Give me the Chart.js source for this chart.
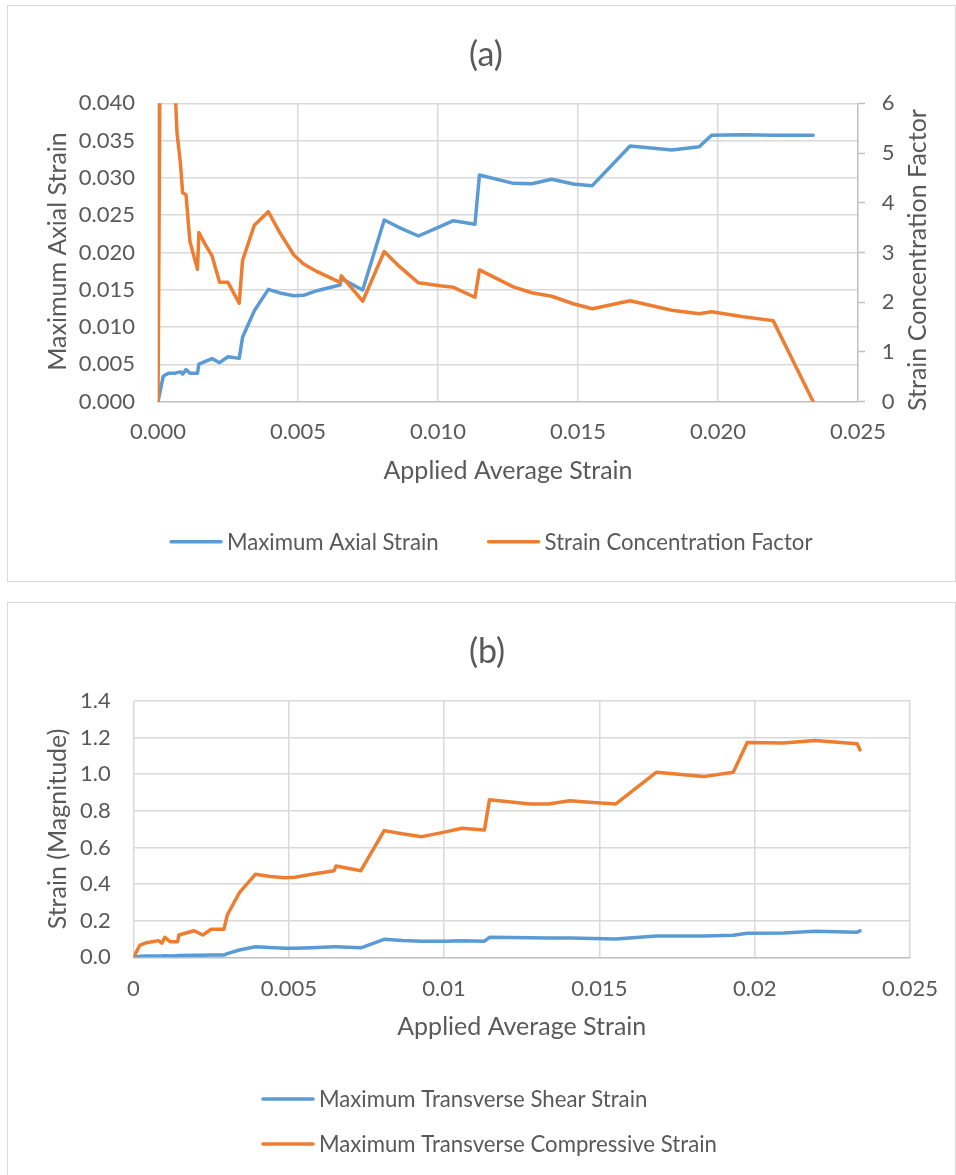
<!DOCTYPE html>
<html>
<head>
<meta charset="utf-8">
<script src="https://cdn.jsdelivr.net/npm/chart.js@4.4.1/dist/chart.umd.min.js"></script>
<style>
  html, body { margin: 0; padding: 0; background: #fff; overflow: hidden; }
  .panel { position: absolute; left: 7px; width: 947px; border: 1px solid #d9d9d9; background: #fff; }
  #panelA { top: 5px; height: 575px; }
  #panelB { top: 602px; height: 598px; }
  canvas { display: block; }
</style>
</head>
<body>
<div class="panel" id="panelA"><canvas id="chartA" width="947" height="575"></canvas></div>
<div class="panel" id="panelB"><canvas id="chartB" width="947" height="598"></canvas></div>

<script>
// ---- Panel (a): axial strain and strain concentration factor ----
const appliedStrainA = [0, 0.00019, 0.00037, 0.00060, 0.00068, 0.00080, 0.00088, 0.00100, 0.00114,
  0.00141, 0.00146, 0.00167, 0.00193, 0.00220, 0.00250, 0.00290, 0.00302, 0.00344, 0.00394,
  0.00435, 0.00485, 0.00520, 0.00567, 0.00650, 0.00655, 0.00731, 0.00808, 0.00860, 0.00930,
  0.01007, 0.01055, 0.01132, 0.01148, 0.01269, 0.01335, 0.01406, 0.01483, 0.01551, 0.01686,
  0.01835, 0.01933, 0.01977, 0.02090, 0.02197, 0.02340];
const maxAxialStrain = [0, 0.00345, 0.0038, 0.0038, 0.0039, 0.0040, 0.0037, 0.0043, 0.0038,
  0.0038, 0.00505, 0.00536, 0.00577, 0.00523, 0.00603, 0.00581, 0.00863, 0.0122, 0.01506,
  0.01458, 0.01421, 0.01426, 0.01488, 0.01564, 0.0165, 0.01497, 0.02436, 0.02338, 0.02221,
  0.02346, 0.02426, 0.02378, 0.03039, 0.02927, 0.02922, 0.02981, 0.02918, 0.02896, 0.03428,
  0.03374, 0.03418, 0.03571, 0.03579, 0.03571, 0.03571];
const strainConcentration = [0, 18, 10, 6.4, 5.4, 4.8, 4.2, 4.16, 3.22,
  2.66, 3.4, 3.18, 2.93, 2.4, 2.4, 1.98, 2.84, 3.55, 3.82,
  3.4, 2.95, 2.77, 2.62, 2.4, 2.53, 2.02, 3.02, 2.73, 2.39,
  2.33, 2.30, 2.10, 2.65, 2.31, 2.19, 2.12, 1.97, 1.87, 2.03,
  1.84, 1.77, 1.81, 1.71, 1.63, 0];

// ---- Panel (b): transverse strains ----
const appliedStrainB = [0, 0.00021, 0.00042, 0.00080, 0.00091, 0.00101, 0.00118, 0.00142, 0.00146,
  0.00195, 0.00223, 0.00250, 0.00291, 0.00302, 0.00341, 0.00393, 0.00440, 0.00488, 0.00520,
  0.00574, 0.00646, 0.00652, 0.00732, 0.00807, 0.00865, 0.00928, 0.01005, 0.01057, 0.01130,
  0.01146, 0.01277, 0.01335, 0.01405, 0.01480, 0.01553, 0.01684, 0.01835, 0.01931, 0.01976,
  0.02092, 0.02194, 0.02330, 0.02339];
const transverseShear = [0, 0.006, 0.007, 0.007, 0.007, 0.008, 0.007, 0.008, 0.010,
  0.011, 0.011, 0.012, 0.012, 0.020, 0.040, 0.058, 0.053, 0.050, 0.049,
  0.052, 0.058, 0.058, 0.052, 0.098, 0.092, 0.088, 0.088, 0.090, 0.088,
  0.109, 0.107, 0.106, 0.105, 0.103, 0.100, 0.116, 0.116, 0.120, 0.131,
  0.133, 0.142, 0.137, 0.145];
const transverseCompressive = [0, 0.067, 0.080, 0.091, 0.077, 0.109, 0.085, 0.085, 0.122,
  0.145, 0.122, 0.153, 0.153, 0.231, 0.353, 0.454, 0.441, 0.435, 0.437,
  0.454, 0.473, 0.499, 0.473, 0.692, 0.675, 0.659, 0.685, 0.705, 0.696,
  0.860, 0.838, 0.837, 0.855, 0.845, 0.838, 1.011, 0.987, 1.011, 1.173,
  1.170, 1.184, 1.166, 1.133];

// ---- Tick values ----
const xTicksStep = 0.005;
const axialTicks = { min: 0, max: 0.04, step: 0.005 };
const scfTicks = { min: 0, max: 6, step: 1 };
const transverseTicks = { min: 0, max: 1.4, step: 0.2 };

const FAMILY = 'Lato, "Open Sans", sans-serif';
const TEXT = '#595959';
const GRID = '#d9d9d9';
const AXIS = '#bfbfbf';
const BLUE = '#5b9bd5';
const ORANGE = '#ed7d31';

Chart.defaults.font.family = FAMILY;
Chart.defaults.font.size = 22;
Chart.defaults.color = TEXT;

const pairs = (xs, ys) => xs.map((x, i) => ({ x, y: ys[i] }));

function lineSet(label, xs, ys, color, extra) {
  return Object.assign({
    label, data: pairs(xs, ys),
    borderColor: color, backgroundColor: color,
    borderWidth: 3.5, pointRadius: 0, pointHoverRadius: 0,
    tension: 0, borderCapStyle: 'round', borderJoinStyle: 'round', fill: false
  }, extra || {});
}

// Titles, axis titles and legend, drawn on top of the chart
const decorations = {
  id: 'decorations',
  afterDraw(chart, args, o) {
    const ctx = chart.ctx;
    const area = chart.chartArea;
    ctx.save();
    ctx.fillStyle = TEXT;
    ctx.textBaseline = 'middle';

    ctx.font = `34px ${FAMILY}`;
    ctx.textAlign = 'center';
    ctx.fillText(o.title, o.titleX, o.titleY);

    ctx.font = `25px ${FAMILY}`;
    ctx.fillText(o.xTitle, (area.left + area.right) / 2, area.bottom + o.xTitleGap);

    o.yTitles.forEach(t => {
      ctx.save();
      ctx.translate(t.x, t.y);
      ctx.rotate(-Math.PI / 2);
      ctx.textAlign = 'center';
      ctx.fillText(t.text, 0, 0);
      ctx.restore();
    });

    ctx.font = `22.2px ${FAMILY}`;
    ctx.textAlign = 'left';
    chart.data.datasets.forEach((ds, i) => {
      const it = o.legend[i];
      ctx.strokeStyle = ds.borderColor;
      ctx.lineWidth = 3.5;
      ctx.lineCap = 'round';
      ctx.beginPath();
      ctx.moveTo(it.x + 2, it.y);
      ctx.lineTo(it.x + 52, it.y);
      ctx.stroke();
      ctx.fillText(ds.label, it.x + 58, it.y + 1);
    });
    ctx.restore();
  }
};

function fixedWidth(w) { return scale => { scale.width = w; }; }
function fixedHeight(h) { return scale => { scale.height = h; scale.paddingLeft = 0; scale.paddingRight = 0; }; }

// Panel (a)
new Chart(document.getElementById('chartA'), {
  type: 'line',
  data: {
    datasets: [
      lineSet('Maximum Axial Strain', appliedStrainA, maxAxialStrain, BLUE, { yAxisID: 'y', order: 2 }),
      lineSet('Strain Concentration Factor', appliedStrainA, strainConcentration, ORANGE, { yAxisID: 'y2', order: 1 })
    ]
  },
  options: {
    responsive: false, animation: false, events: [],
    layout: { padding: { left: 70, right: 37, top: 97.3, bottom: 119.3 } },
    plugins: {
      legend: { display: false }, title: { display: false }, tooltip: { enabled: false },
      decorations: {
        title: '(a)', titleX: 478, titleY: 49,
        xTitle: 'Applied Average Strain', xTitleGap: 69,
        yTitles: [
          { text: 'Maximum Axial Strain', x: 50, y: 245.5 },
          { text: 'Strain Concentration Factor', x: 910, y: 254 }
        ],
        legend: [ { x: 161, y: 535.7 }, { x: 478.6, y: 535.7 } ]
      }
    },
    scales: {
      x: {
        type: 'linear', min: 0, max: 0.025,
        afterFit: fixedHeight(60),
        ticks: { stepSize: xTicksStep, padding: 17.5, maxRotation: 0, callback: v => v.toFixed(3) },
        grid: { color: c => (c.tick && Math.abs(c.tick.value - 0.025) < 1e-9) ? 'rgba(0,0,0,0)' : GRID, lineWidth: 1.5, drawTicks: false },
        border: { display: true, color: AXIS, width: 1.5 }
      },
      y: {
        type: 'linear', position: 'left', min: axialTicks.min, max: axialTicks.max,
        afterFit: fixedWidth(80),
        ticks: { stepSize: axialTicks.step, padding: 23, callback: v => v.toFixed(3) },
        grid: { color: c => (c.tick && c.tick.value === 0) ? 'rgba(0,0,0,0)' : GRID, lineWidth: 1.5, drawTicks: false },
        border: { display: false }
      },
      y2: {
        type: 'linear', position: 'right', min: scfTicks.min, max: scfTicks.max,
        afterFit: fixedWidth(60),
        ticks: { stepSize: scfTicks.step, padding: 16.7, callback: v => String(v) },
        grid: { drawOnChartArea: false, drawTicks: true, tickLength: 7, tickColor: AXIS, tickWidth: 1.5, color: AXIS },
        border: { display: true, color: AXIS, width: 1.5 }
      }
    }
  },
  plugins: [decorations]
});

// Panel (b)
new Chart(document.getElementById('chartB'), {
  type: 'line',
  data: {
    datasets: [
      lineSet('Maximum Transverse Shear Strain', appliedStrainB, transverseShear, BLUE, { order: 2 }),
      lineSet('Maximum Transverse Compressive Strain', appliedStrainB, transverseCompressive, ORANGE, { order: 1 })
    ]
  },
  options: {
    responsive: false, animation: false, events: [],
    layout: { padding: { left: 45.5, right: 45, top: 98, bottom: 183.7 } },
    plugins: {
      legend: { display: false }, title: { display: false }, tooltip: { enabled: false },
      decorations: {
        title: '(b)', titleX: 479, titleY: 49,
        xTitle: 'Applied Average Strain', xTitleGap: 69.7,
        yTitles: [ { text: 'Strain (Magnitude)', x: 50, y: 226 } ],
        legend: [ { x: 253, y: 496 }, { x: 253, y: 541 } ]
      }
    },
    scales: {
      x: {
        type: 'linear', min: 0, max: 0.025,
        afterFit: fixedHeight(60),
        ticks: { stepSize: xTicksStep, padding: 18, maxRotation: 0, callback: v => String(parseFloat(v.toFixed(3))) },
        grid: { color: GRID, lineWidth: 1.5, drawTicks: false },
        border: { display: true, color: AXIS, width: 1.5 }
      },
      y: {
        type: 'linear', min: transverseTicks.min, max: transverseTicks.max,
        afterFit: fixedWidth(80),
        ticks: { stepSize: transverseTicks.step, padding: 22.8, callback: v => v.toFixed(1) },
        grid: { color: c => (c.tick && c.tick.value === 0) ? 'rgba(0,0,0,0)' : GRID, lineWidth: 1.5, drawTicks: false },
        border: { display: false }
      }
    }
  },
  plugins: [decorations]
});
</script>
</body>
</html>
